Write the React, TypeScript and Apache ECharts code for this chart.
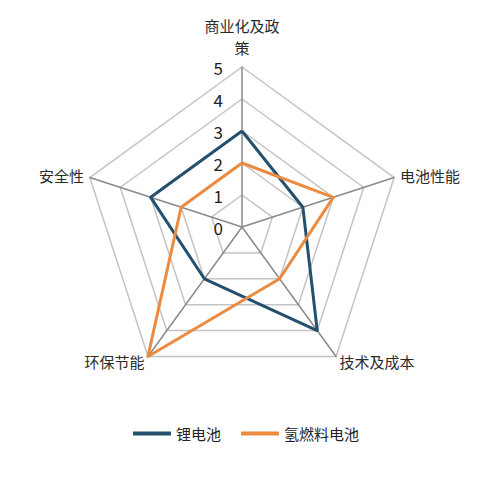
import * as echarts from "echarts";
import { useEffect, useRef } from "react";

// listed counter-clockwise from the top, the order the radar draws them
const indicators = ["商业化及政策", "安全性", "环保节能", "技术及成本", "电池性能"];
const maxValue = 5;
const seriesNames = ["锂电池", "氢燃料电池"];
const lithium = [3, 3, 2, 4, 2];
const hydrogen = [2, 2, 5, 2, 3];
const colors = ["#24506e", "#ec8b3f"];

const App = () => {
  const chartRef = useRef(null);

  useEffect(() => {
    document.body.style.margin = "0";
    const chartInstance = echarts.init(chartRef.current, null, { renderer: "svg" });

    const options = {
      animation: false,
      backgroundColor: "#ffffff",
      color: colors,
      textStyle: { fontFamily: "'Noto Sans CJK SC', sans-serif" },
      legend: {
        bottom: 32,
        left: "center",
        icon: "rect",
        itemWidth: 38,
        itemHeight: 4,
        itemGap: 20,
        textStyle: { fontSize: 15, color: "#222" },
        data: seriesNames,
      },
      radar: {
        center: [242, 227],
        radius: 160,
        startAngle: 90,
        splitNumber: 5,
        shape: "polygon",
        axisName: {
          color: "#2a2a2a",
          fontSize: 15,
          lineHeight: 22,
          formatter: (name) => (name.length > 5 ? name.slice(0, 5) + "\n" + name.slice(5) : name),
        },
        nameGap: 6,
        splitArea: { show: false },
        splitLine: { lineStyle: { color: "#c4c4c4", width: 1.5 } },
        axisLine: { lineStyle: { color: "#8a8a8a", width: 1.5 } },
        axisTick: { show: false },
        axisLabel: { show: false },
        indicator: indicators.map((name, i) => ({
          name,
          min: 0,
          max: maxValue,
          axisLabel:
            i === 0
              ? { show: true, color: "#222", fontSize: 17, margin: 19 }
              : { show: false },
        })),
      },
      series: [
        {
          type: "radar",
          symbol: "none",
          data: [
            { name: seriesNames[0], value: lithium, lineStyle: { width: 3, color: colors[0] } },
            { name: seriesNames[1], value: hydrogen, lineStyle: { width: 3, color: colors[1] } },
          ],
        },
      ],
    };

    chartInstance.setOption(options);

    const handleResize = () => chartInstance.resize();
    window.addEventListener("resize", handleResize);

    return () => {
      window.removeEventListener("resize", handleResize);
      chartInstance.dispose();
    };
  }, []);

  return <div ref={chartRef} style={{ width: "492px", height: "478px" }} />;
};

export default App;
